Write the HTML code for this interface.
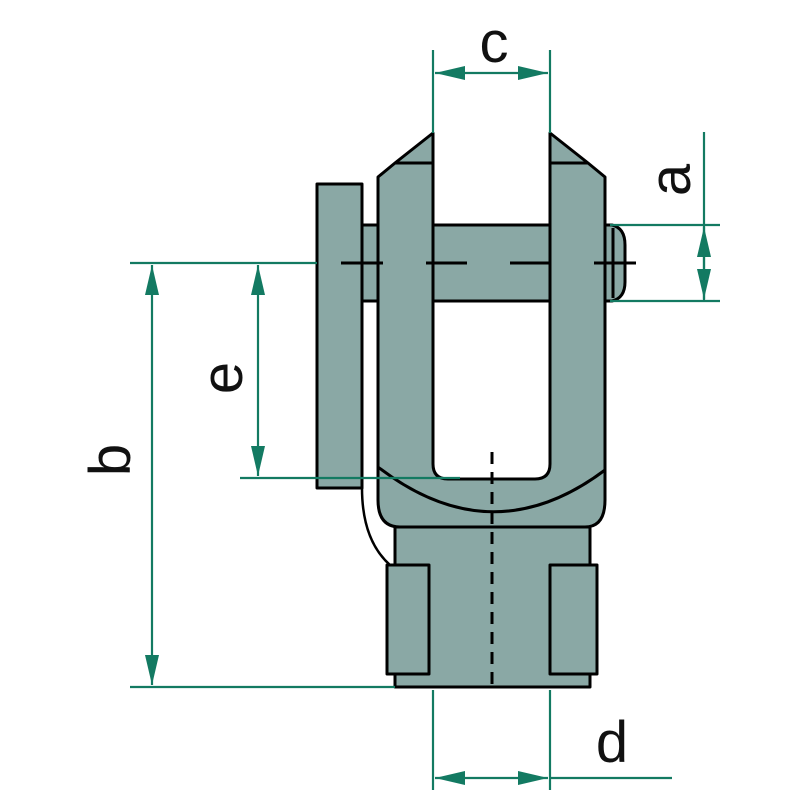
<!DOCTYPE html>
<html><head><style>body{margin:0;background:#fff}svg{display:block}</style></head><body>
<svg width="800" height="800" viewBox="0 0 800 800" xmlns="http://www.w3.org/2000/svg">
<defs>
<marker id="ar" markerWidth="30" markerHeight="14" refX="30" refY="7" orient="auto-start-reverse" markerUnits="userSpaceOnUse" viewBox="0 0 30 14"><path d="M0,0 L30,7 L0,14 z" fill="#137a62"/></marker>
</defs>
<g fill="#8aa8a5" stroke="#000" stroke-width="3" stroke-linejoin="round">
<path d="M362,488 Q362,540 390,565" fill="none" stroke-width="2.5"/>
<rect x="317" y="184" width="45" height="304"/>
<rect x="362" y="225" width="16" height="76"/>
<rect x="395" y="527" width="195" height="160"/>
<rect x="387" y="565" width="42" height="109"/>
<rect x="550" y="565" width="47" height="109"/>
<path d="M378,177 L395,163 L433,133 L433,464 Q433,479 448,479 L535,479 Q550,479 550,464 L550,133 L588,163 L605,177 L605,500 Q605,527 585,527 L400,527 Q378,527 378,500 Z"/>
<path d="M395,163 L433,163 M550,163 L588,163" fill="none"/>
<path d="M378,467 Q492,555 605,470" fill="none"/>
<rect x="433" y="225" width="117" height="76"/>
<path d="M605,225 L612,225 Q625,228 625,245 L625,282 Q625,298 612,301 L605,301 Z"/>
<path d="M613,228 L613,298" fill="none"/>
</g>
<g stroke="#000" stroke-width="3" fill="none">
<path d="M341,263 L383,263 M426,263 L467,263 M510,263 L550,263 M594,263 L636,263"/>
<path d="M492,452 L492,690" stroke-dasharray="12,8"/>
</g>
<g stroke="#137a62" stroke-width="2.2" fill="none">
<path d="M433,50 L433,133 M550,50 L550,133"/>
<path d="M435,73 L548,73" marker-start="url(#ar)" marker-end="url(#ar)"/>
<path d="M610,225 L720,225 M610,301 L720,301 M704,132 L704,301"/>
<path d="M704,263 L704,227" marker-end="url(#ar)"/>
<path d="M704,263 L704,299" marker-end="url(#ar)"/>
<path d="M130,263 L317,263 M130,687 L395,687"/>
<path d="M152,265 L152,685" marker-start="url(#ar)" marker-end="url(#ar)"/>
<path d="M240,478 L460,478"/>
<path d="M258,265 L258,476" marker-start="url(#ar)" marker-end="url(#ar)"/>
<path d="M433,690 L433,790 M550,690 L550,790"/>
<path d="M435,778 L548,778" marker-start="url(#ar)" marker-end="url(#ar)"/>
<path d="M550,778 L672,778"/>
</g>
<g font-family="Liberation Sans, sans-serif" font-size="58" fill="#111">
<text x="494" y="62" text-anchor="middle">c</text>
<text x="612" y="762" text-anchor="middle">d</text>
<text transform="translate(690,180) rotate(-90)" text-anchor="middle">a</text>
<text transform="translate(130,460) rotate(-90)" text-anchor="middle">b</text>
<text transform="translate(242,378) rotate(-90)" text-anchor="middle">e</text>
</g>
</svg>
</body></html>
